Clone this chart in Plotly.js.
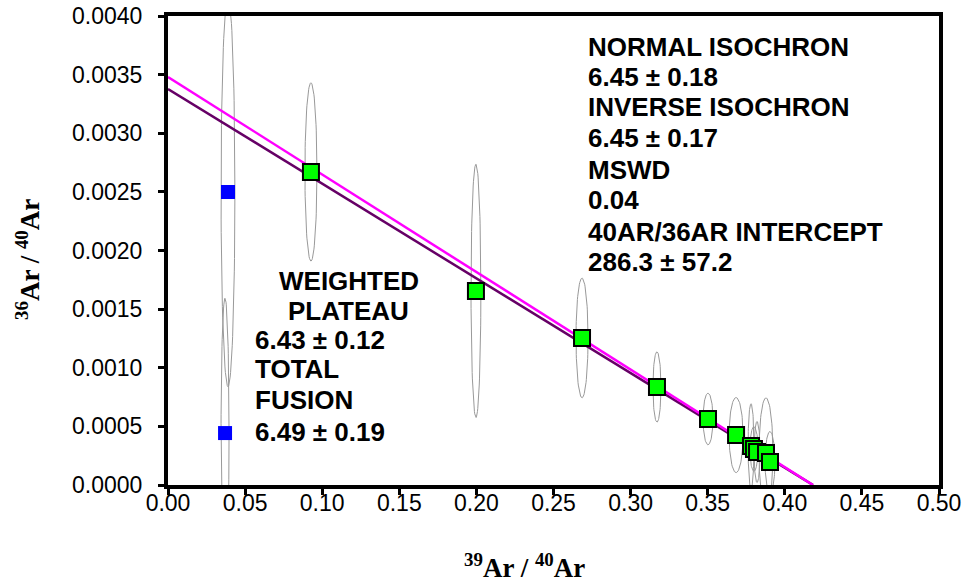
<!DOCTYPE html>
<html>
<head>
<meta charset="utf-8">
<script src="https://cdn.plot.ly/plotly-3.0.1.min.js"></script>
<style>html,body{margin:0;padding:0;background:#fff;}#chart{width:971px;height:588px;}</style>
</head>
<body>
<div id="chart"></div>
<script>
// Plateau (green) steps: 39Ar/40Ar, 36Ar/40Ar and error-ellipse half-axes
const greenX = [0.0927, 0.1997, 0.2685, 0.3171, 0.3502, 0.3684, 0.3781, 0.3800, 0.3820, 0.3878, 0.3904];
const greenY = [0.00267, 0.001655, 0.001254, 0.000836, 0.000563, 0.000426, 0.000333, 0.000307, 0.000281, 0.000273, 0.000196];
const greenErrX = [0.0039, 0.0032, 0.0039, 0.0026, 0.0032, 0.0045, 0.0019, 0.0026, 0.0019, 0.0045, 0.0032];
const greenErrY = [0.00076, 0.00108, 0.00051, 0.00030, 0.00022, 0.00032, 0.00036, 0.00019, 0.00026, 0.00047, 0.00026];

// Excluded (blue) steps
const blueX = [0.0389, 0.0370];
const blueY = [0.002499, 0.000443];
const blueErrX = [0.0045, 0.0026];
const blueErrY = [0.00166, 0.00115];

// Isochron regression lines (y-intercept and x-intercept)
const isoMagentaX = [0, 0.4183];
const isoMagentaY = [0.00348, 0];
const isoPurpleX = [0, 0.4183];
const isoPurpleY = [0.003377, 0];

// Text
const xTitle = '<sup>39</sup>Ar / <sup>40</sup>Ar';
const yTitle = '<sup>36</sup>Ar / <sup>40</sup>Ar';
const rightText = ["NORMAL ISOCHRON", "6.45 \u00b1 0.18", "INVERSE ISOCHRON", "6.45 \u00b1 0.17", "MSWD", "0.04", "40AR/36AR INTERCEPT", "286.3 \u00b1 57.2"];
const leftText = ["WEIGHTED", "PLATEAU", "6.43 \u00b1 0.12", "TOTAL", "FUSION", "6.49 \u00b1 0.19"];

function ellipse(cx, cy, rx, ry) {
  const xs = [], ys = [];
  const n = 90;
  for (let i = 0; i <= n; i++) {
    const t = 2 * Math.PI * i / n;
    xs.push(cx + rx * Math.cos(t));
    ys.push(cy + ry * Math.sin(t));
  }
  return {x: xs, y: ys};
}

const traces = [];
function addEllipses(X, Y, EX, EY) {
  for (let i = 0; i < X.length; i++) {
    const e = ellipse(X[i], Y[i], EX[i], EY[i]);
    traces.push({x: e.x, y: e.y, type: 'scatter', mode: 'lines',
      line: {color: '#999999', width: 1}, hoverinfo: 'skip', showlegend: false});
  }
}
addEllipses(blueX, blueY, blueErrX, blueErrY);
addEllipses(greenX, greenY, greenErrX, greenErrY);

traces.push({x: isoPurpleX, y: isoPurpleY, type: 'scatter', mode: 'lines',
  line: {color: '#660066', width: 2.5}, showlegend: false});
traces.push({x: isoMagentaX, y: isoMagentaY, type: 'scatter', mode: 'lines',
  line: {color: '#ff00ff', width: 2.5}, showlegend: false});

traces.push({x: blueX, y: blueY, type: 'scatter', mode: 'markers',
  marker: {symbol: 'square', size: 14, color: '#0000ff', line: {width: 0}}, showlegend: false, cliponaxis: true});
traces.push({x: greenX, y: greenY, type: 'scatter', mode: 'markers',
  marker: {symbol: 'square', size: 16, color: '#00ff00', line: {width: 2, color: '#000'}}, showlegend: false, cliponaxis: false});

// pixel -> paper helpers for text placement
const L = 168, R = 939, T = 16, B = 485;
const px = v => (v - L) / (R - L);
const py = v => (B - v) / (B - T);

const annFont = {family: 'Liberation Sans, Arial, sans-serif', size: 26, color: '#000'};
const titleFont = {family: 'Liberation Serif, Times New Roman, serif', size: 27, color: '#000'};
const annotations = [];
const rightYs = [47, 77, 107, 138, 170, 200, 232, 262];
rightText.forEach((t, i) => annotations.push({
  xref: 'paper', yref: 'paper', x: px(587), y: py(rightYs[i]), xanchor: 'left', yanchor: 'middle',
  text: '<b>' + t + '</b>', showarrow: false, font: annFont, borderpad: 0
}));
const leftPos = [[349, 281, 'center'], [348, 311, 'center'], [254, 340, 'left'], [254, 369, 'left'], [254, 400, 'left'], [254, 432, 'left']];
leftText.forEach((t, i) => annotations.push({
  xref: 'paper', yref: 'paper', x: px(leftPos[i][0]), y: py(leftPos[i][1]), xanchor: leftPos[i][2], yanchor: 'middle',
  text: '<b>' + t + '</b>', showarrow: false, font: annFont, borderpad: 0
}));
// axis titles
annotations.push({xref: 'paper', yref: 'paper', x: px(524), y: py(566), xanchor: 'center', yanchor: 'middle',
  text: '<b>' + xTitle + '</b>', showarrow: false, font: titleFont, borderpad: 0});
annotations.push({xref: 'paper', yref: 'paper', x: px(28), y: py(260), xanchor: 'center', yanchor: 'middle',
  text: '<b>' + yTitle + '</b>', textangle: -90, showarrow: false, font: titleFont, borderpad: 0});

const tickFont = {family: 'Liberation Sans, Arial, sans-serif', size: 23, color: '#000'};

const layout = {
  width: 971, height: 588,
  margin: {l: L, r: 971 - R, t: T, b: 588 - B, pad: 0},
  paper_bgcolor: '#fff', plot_bgcolor: '#fff',
  showlegend: false,
  xaxis: {
    range: [0, 0.5], dtick: 0.05, tick0: 0, tickformat: '.2f',
    showgrid: false, zeroline: false,
    showline: true, linewidth: 4, linecolor: '#000', mirror: true,
    ticks: 'outside', ticklen: 6, tickwidth: 3, tickcolor: '#000',
    tickfont: tickFont, ticklabelstandoff: -12,
    automargin: false
  },
  yaxis: {
    range: [0, 0.004], dtick: 0.0005, tick0: 0, tickformat: '.4f',
    showgrid: false, zeroline: false,
    showline: true, linewidth: 4, linecolor: '#000', mirror: true,
    ticks: 'outside', ticklen: 6, tickwidth: 3, tickcolor: '#000',
    tickfont: tickFont, ticklabelstandoff: 11,
    automargin: false
  },
  annotations: annotations
};

Plotly.newPlot('chart', traces, layout, {staticPlot: true, displayModeBar: false});
</script>
</body>
</html>
